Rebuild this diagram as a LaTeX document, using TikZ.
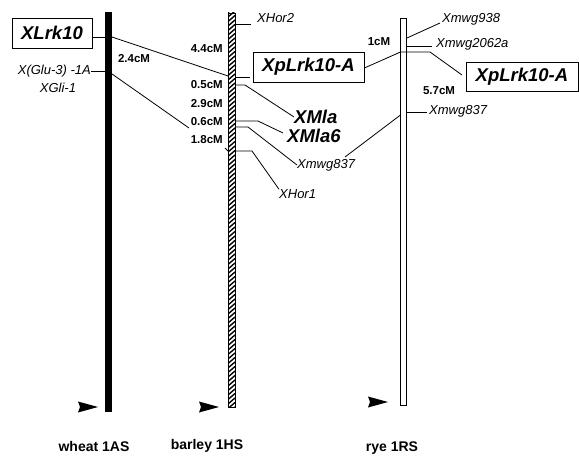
\documentclass[tikz,border=0pt]{standalone}
\usepackage{fontspec}
\setmainfont{Liberation Sans}
\begin{document}
\begin{tikzpicture}[x=1pt,y=-1pt,
  mklab/.style={font=\fontsize{13}{13}\selectfont\itshape, inner sep=0pt},
  biglab/.style={font=\fontsize{18.5}{18.5}\selectfont\bfseries\itshape, inner sep=0pt},
  cmlab/.style={font=\fontsize{11.5}{11.5}\selectfont\bfseries, inner sep=0pt},
  chrlab/.style={font=\fontsize{14}{14}\selectfont\bfseries, inner sep=0pt},
  boxlab/.style={biglab, draw, line width=0.8pt},
  ln/.style={line width=0.8pt}]
\useasboundingbox (0,0) rectangle (579,468);

% ---------- chromosomes ----------
\fill (105,12) rectangle (112,412);
\begin{scope}
  \clip (228,13) rectangle (235,407);
  \foreach \y in {8,12.5,...,414} \draw[line width=1.4pt] (228,\y) -- (235,{\y-6});
\end{scope}
\draw[line width=0.8pt] (228,13) rectangle (235,407);
\draw[line width=0.9pt] (400.5,18) rectangle (406,405);

% bottom arrows
\fill (78,401.5) -- (98,407) -- (78,412.5) -- (80,407) -- cycle;
\fill (199,401.5) -- (219,407) -- (199,412.5) -- (201,407) -- cycle;
\fill (368,396.5) -- (388,402) -- (368,407.5) -- (370,402) -- cycle;

% chromosome names
\node[chrlab] (wheat) at (94,446) {wheat 1AS};
\node[chrlab] (barley) at (207,446) {barley 1HS};
\node[chrlab] (rye) at (392,448) {rye 1RS};

% ---------- coordinates ----------
\coordinate (wA) at (105,37);
\coordinate (wB) at (112,37);
\coordinate (wC) at (105,71);
\coordinate (wD) at (112,74);
\coordinate (bA) at (228,76);
\coordinate (wE) at (189,128);
\coordinate (wF) at (225,148);
\coordinate (bF) at (228,151);

% ---------- wheat ----------
\node[boxlab, minimum width=80pt, minimum height=30pt] (xlrk) at (52,33) {XLrk10};
\draw[ln] (xlrk.east |- wA) -- (wA);
\draw[ln] (wB) -- (bA);
\node[cmlab] (c24) at (134,59) {2.4cM};
\node[mklab, anchor=east] (glu) at (91,71) {X(Glu-3) -1A};
\draw[ln] (glu.east |- wC) -- (wC);
\node[mklab] (gli) at (58,88) {XGli-1};
\draw[ln] (wD) -- (wE);
\draw[ln] (wF) -- (bF);

% ---------- barley ----------
\node[mklab, anchor=west] (hor2) at (257,18) {XHor2};
\draw[ln] (235,24) -- (251,24);
\node[cmlab, anchor=east] (c44) at (223,49) {4.4cM};
\draw[ln] (235,77) -- (250,77);
\node[boxlab, minimum width=111pt, minimum height=30pt] (pl1) at (308.5,67) {XpLrk10-A};
\node[cmlab, anchor=east] (c05) at (223,85) {0.5cM};
\node[cmlab, anchor=east] (c29) at (223,104) {2.9cM};
\node[cmlab, anchor=east] (c06) at (223,122) {0.6cM};
\node[cmlab, anchor=east] (c18) at (223,140) {1.8cM};
\node[biglab, anchor=west] (mla) at (294,117) {XMla};
\node[biglab, anchor=west] (mla6) at (287,136) {XMla6};
\node[mklab, anchor=west] (m837b) at (297,165) {Xmwg837};
\node[mklab, anchor=west] (hor1) at (279,194) {XHor1};
\draw[ln] (235,85) -- (245,85) -- (mla.west);
\draw[ln] (235,121) -- (258,121) -- (283,133);
\draw[ln] (235,127) -- (248,127) -- (m837b.west);
\draw[ln] (235,151) -- (252,151) -- (hor1.north west);

% ---------- rye ----------
\coordinate (rA) at (400.5,52);
\coordinate (rB) at (400.5,115);
\draw[ln] (pl1.east |- 0,68) -- (rA);
\node[mklab, anchor=west] (m938) at (442,19) {Xmwg938};
\draw[ln] (407,38) -- (440,23);
\node[mklab, anchor=west] (m2062) at (436,44) {Xmwg2062a};
\draw[ln] (407,46) -- (432,46);
\node[cmlab] (c1) at (379,42) {1cM};
\node[boxlab, minimum width=112pt, minimum height=29pt] (pl2) at (522,76.5) {XpLrk10-A};
\draw[ln] (rA) -- (430,52) -- (462,75);
\node[cmlab] (c57) at (439,91) {5.7cM};
\node[mklab, anchor=west] (m837r) at (429,111) {Xmwg837};
\draw[ln] (407,112) -- (427,112);
\draw[ln] (345,157) -- (rB);
\end{tikzpicture}
\end{document}
